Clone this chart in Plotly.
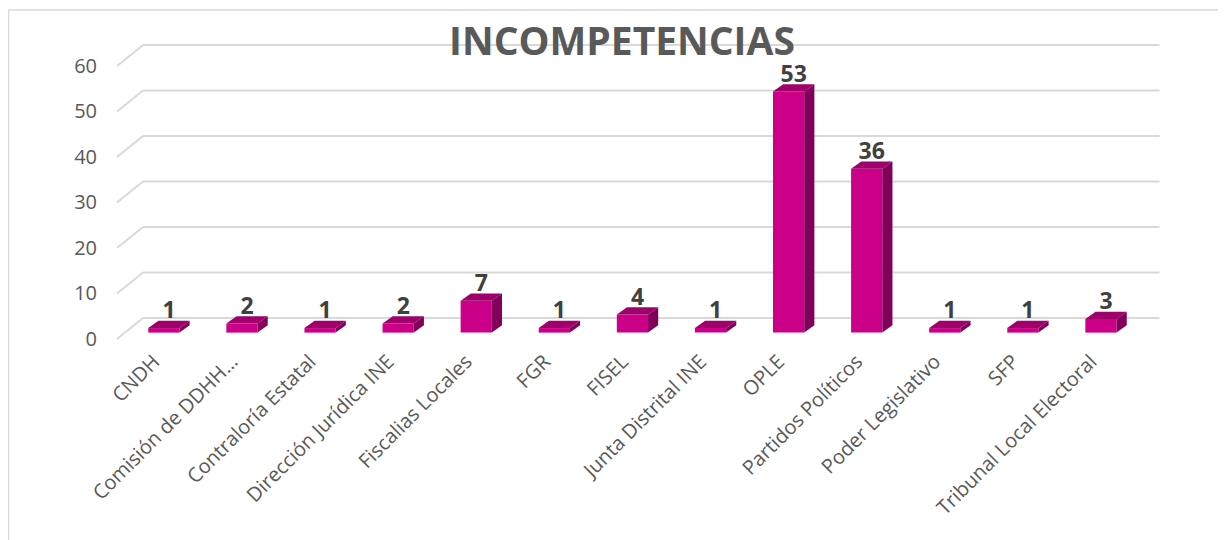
import plotly.graph_objects as go

# Datos del gráfico
categorias = ["CNDH", "Comisión de DDHH…", "Contraloría Estatal", "Dirección Jurídica INE",
              "Fiscalias Locales", "FGR", "FISEL", "Junta Distrital INE", "OPLE",
              "Partidos Políticos", "Poder Legislativo", "SFP", "Tribunal Local Electoral"]
valores = [1, 2, 1, 2, 7, 1, 4, 1, 53, 36, 1, 1, 3]
ticks_y = [0, 10, 20, 30, 40, 50, 60]

# Parámetros del efecto 3D (en unidades de los ejes)
ancho = 0.40
dx_bar, dy_bar = 0.13, 1.6      # profundidad de cada barra
base = 1.4                      # barras a media profundidad
dx_pared, dy_pared = 0.333, 4.6 # profundidad de la pared de fondo
x_frente, x_fin = -0.60, 12.75

frente = "#CC0088"
arriba = "#A0006C"
lado = "#82005A"
gris = "#595959"

pos = list(range(len(categorias)))

fig = go.Figure()

# Cara frontal
fig.add_trace(go.Bar(x=pos, y=valores, base=base, width=ancho, marker_color=frente,
                     marker_line_width=0, showlegend=False))

# Caras superior y lateral
for xi, v in zip(pos, valores):
    izq, der = xi - ancho / 2, xi + ancho / 2
    top = base + v
    fig.add_trace(go.Scatter(
        x=[izq, der, der + dx_bar, izq + dx_bar, izq],
        y=[top, top, top + dy_bar, top + dy_bar, top],
        fill="toself", fillcolor=arriba, mode="lines", line=dict(width=0, color=arriba),
        hoverinfo="skip", showlegend=False))
    fig.add_trace(go.Scatter(
        x=[der, der + dx_bar, der + dx_bar, der, der],
        y=[base, base + dy_bar, top + dy_bar, top, base],
        fill="toself", fillcolor=lado, mode="lines", line=dict(width=0, color=lado),
        hoverinfo="skip", showlegend=False))

# Etiquetas de datos
fig.add_trace(go.Scatter(
    x=[p + dx_bar / 2 for p in pos],
    y=[base + v + dy_bar + 1.8 for v in valores],
    mode="text", text=[str(v) for v in valores], textposition="middle center",
    textfont=dict(family="Open Sans", size=23, color="#404040", weight="bold"),
    hoverinfo="skip", showlegend=False, cliponaxis=False))

# Cuadrícula (pared del fondo + diagonal izquierda), detrás de las barras
grid = []
for v in ticks_y:
    grid.append(dict(type="line", xref="x", yref="y", x0=x_frente, y0=v,
                     x1=x_frente + dx_pared, y1=v + dy_pared,
                     line=dict(color="#D9D9D9", width=2), layer="below"))
    grid.append(dict(type="line", xref="x", yref="y", x0=x_frente + dx_pared, y0=v + dy_pared,
                     x1=x_fin, y1=v + dy_pared,
                     line=dict(color="#D9D9D9", width=2), layer="below"))

borde = dict(type="rect", xref="paper", yref="paper", x0=-0.0962, x1=1.0521,
             y0=-0.7, y1=1.0635, line=dict(color="#D9D9D9", width=1.5),
             fillcolor="rgba(0,0,0,0)", layer="below")

fig.update_layout(
    width=1226, height=540,
    margin=dict(l=102, r=69, t=22, b=203),
    paper_bgcolor="white", plot_bgcolor="white",
    title=dict(text="<b>INCOMPETENCIAS</b>", x=0.5008, xanchor="center",
               y=1 - 33 / 540, yanchor="middle",
               font=dict(family="Open Sans", size=39, color=gris)),
    xaxis=dict(range=[-0.69, 12.82], tickvals=pos, ticktext=categorias, tickangle=-45,
               showgrid=False, zeroline=False, showline=False,
               ticklabelstandoff=0, ticklabelshift=-10,
               tickfont=dict(family="Open Sans", size=20, color=gris)),
    yaxis=dict(range=[-1.32, 67.91], tickvals=ticks_y, showgrid=False, zeroline=False,
               showline=False, ticklabelstandoff=12,
               tickfont=dict(family="Open Sans", size=20, color=gris)),
    shapes=grid + [borde],
)

fig.write_html("out.html")
